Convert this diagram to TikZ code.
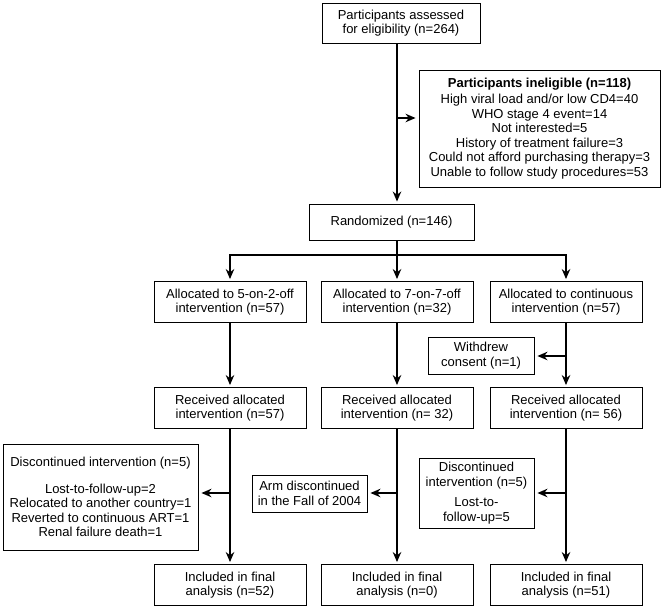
\documentclass[tikz,border=0pt]{standalone}
\usepackage{fontspec}
\setmainfont{Liberation Sans}
\usetikzlibrary{arrows.meta}

\tikzset{
	box/.style={draw, line width=0.9pt, align=center, inner sep=0pt,
		font=\fontsize{13}{14.5}\selectfont},
	colbox/.style={box, minimum width=152pt, minimum height=41pt},
	link/.style={line width=2pt},
	flow/.style={link, -{Stealth[length=10pt,width=8.5pt]}, shorten >=2pt},
	side/.style={flow, shorten >=3pt},
}

\begin{document}
\begin{tikzpicture}[x=1pt,y=-1pt]
	\useasboundingbox (0,0) rectangle (661,610);
	% columns and junctions
	\coordinate (c0) at (397,0);
	\coordinate (c1) at (230,0);
	\coordinate (c3) at (566,0);
	\coordinate (br) at (397,255);
	\coordinate (j0) at (397,118);
	\coordinate (jw) at (566,356);
	\coordinate (j1) at (230,493);
	\coordinate (j2) at (397,493);
	\coordinate (j3) at (566,493);
	% screening
	\draw (401,23) node[box,minimum width=158pt,minimum height=40pt] (elig) {Participants assessed\\for eligibility (n=264)};
	\draw (539.5,128.5) node[box,minimum width=241pt,minimum height=117pt] (inel) {\textbf{Participants ineligible (n=118)}\\[2pt]High viral load and/or low CD4=40\\WHO stage 4 event=14\\Not interested=5\\History of treatment failure=3\\Could not afford purchasing therapy=3\\Unable to follow study procedures=53};
	\draw (391.5,222) node[box,minimum width=165pt,minimum height=36pt] (rand) {Randomized (n=146)};
	% arms
	\draw (230,302) node[colbox] (alloc1) {Allocated to 5-on-2-off\\intervention (n=57)};
	\draw (397,302) node[colbox] (alloc2) {Allocated to 7-on-7-off\\intervention (n=32)};
	\draw (566,302) node[colbox] (alloc3) {Allocated to continuous\\intervention (n=57)};
	\draw (481,355.5) node[box,minimum width=106pt,minimum height=37pt] (withdrew) {Withdrew\\consent (n=1)};
	\draw (230,408) node[colbox] (recv1) {Received allocated\\intervention (n=57)};
	\draw (397,408) node[colbox] (recv2) {Received allocated\\intervention (n= 32)};
	\draw (566,408) node[colbox] (recv3) {Received allocated\\intervention (n= 56)};
	\draw (100.5,497) node[box,minimum width=195pt,minimum height=106pt] (disc1) {Discontinued intervention (n=5)\\[12pt]Lost-to-follow-up=2\\Relocated to another country=1\\Reverted to continuous ART=1\\Renal failure death=1};
	\draw (309.5,493.5) node[box,minimum width=115pt,minimum height=37pt] (disc2) {Arm discontinued\\in the Fall of 2004};
	\draw (476.5,493) node[box,minimum width=115pt,minimum height=70pt] (disc3) {Discontinued\\intervention (n=5)\\[6pt]Lost-to-\\follow-up=5};
	\draw (230,585) node[colbox] (final1) {Included in final\\analysis (n=52)};
	\draw (397,585) node[colbox] (final2) {Included in final\\analysis (n=0)};
	\draw (566,585) node[colbox] (final3) {Included in final\\analysis (n=51)};
	% connectors
	\draw[flow] (elig.south -| c0) -- (rand.north -| c0);
	\draw[side] (j0) -- (j0 -| inel.west);
	\draw[link] (rand.south -| c0) -- (br);
	\draw[flow] (br) -| (alloc1.north);
	\draw[flow] (br) -- (alloc2.north);
	\draw[flow] (br) -| (alloc3.north);
	\draw[flow] (alloc1) -- (recv1);
	\draw[flow] (alloc2) -- (recv2);
	\draw[flow] (alloc3) -- (recv3);
	\draw[side] (jw) -- (jw -| withdrew.east);
	\draw[flow] (recv1) -- (final1);
	\draw[flow] (recv2) -- (final2);
	\draw[flow] (recv3) -- (final3);
	\draw[side] (j1) -- (j1 -| disc1.east);
	\draw[side] (j2) -- (j2 -| disc2.east);
	\draw[side] (j3) -- (j3 -| disc3.east);
\end{tikzpicture}
\end{document}
